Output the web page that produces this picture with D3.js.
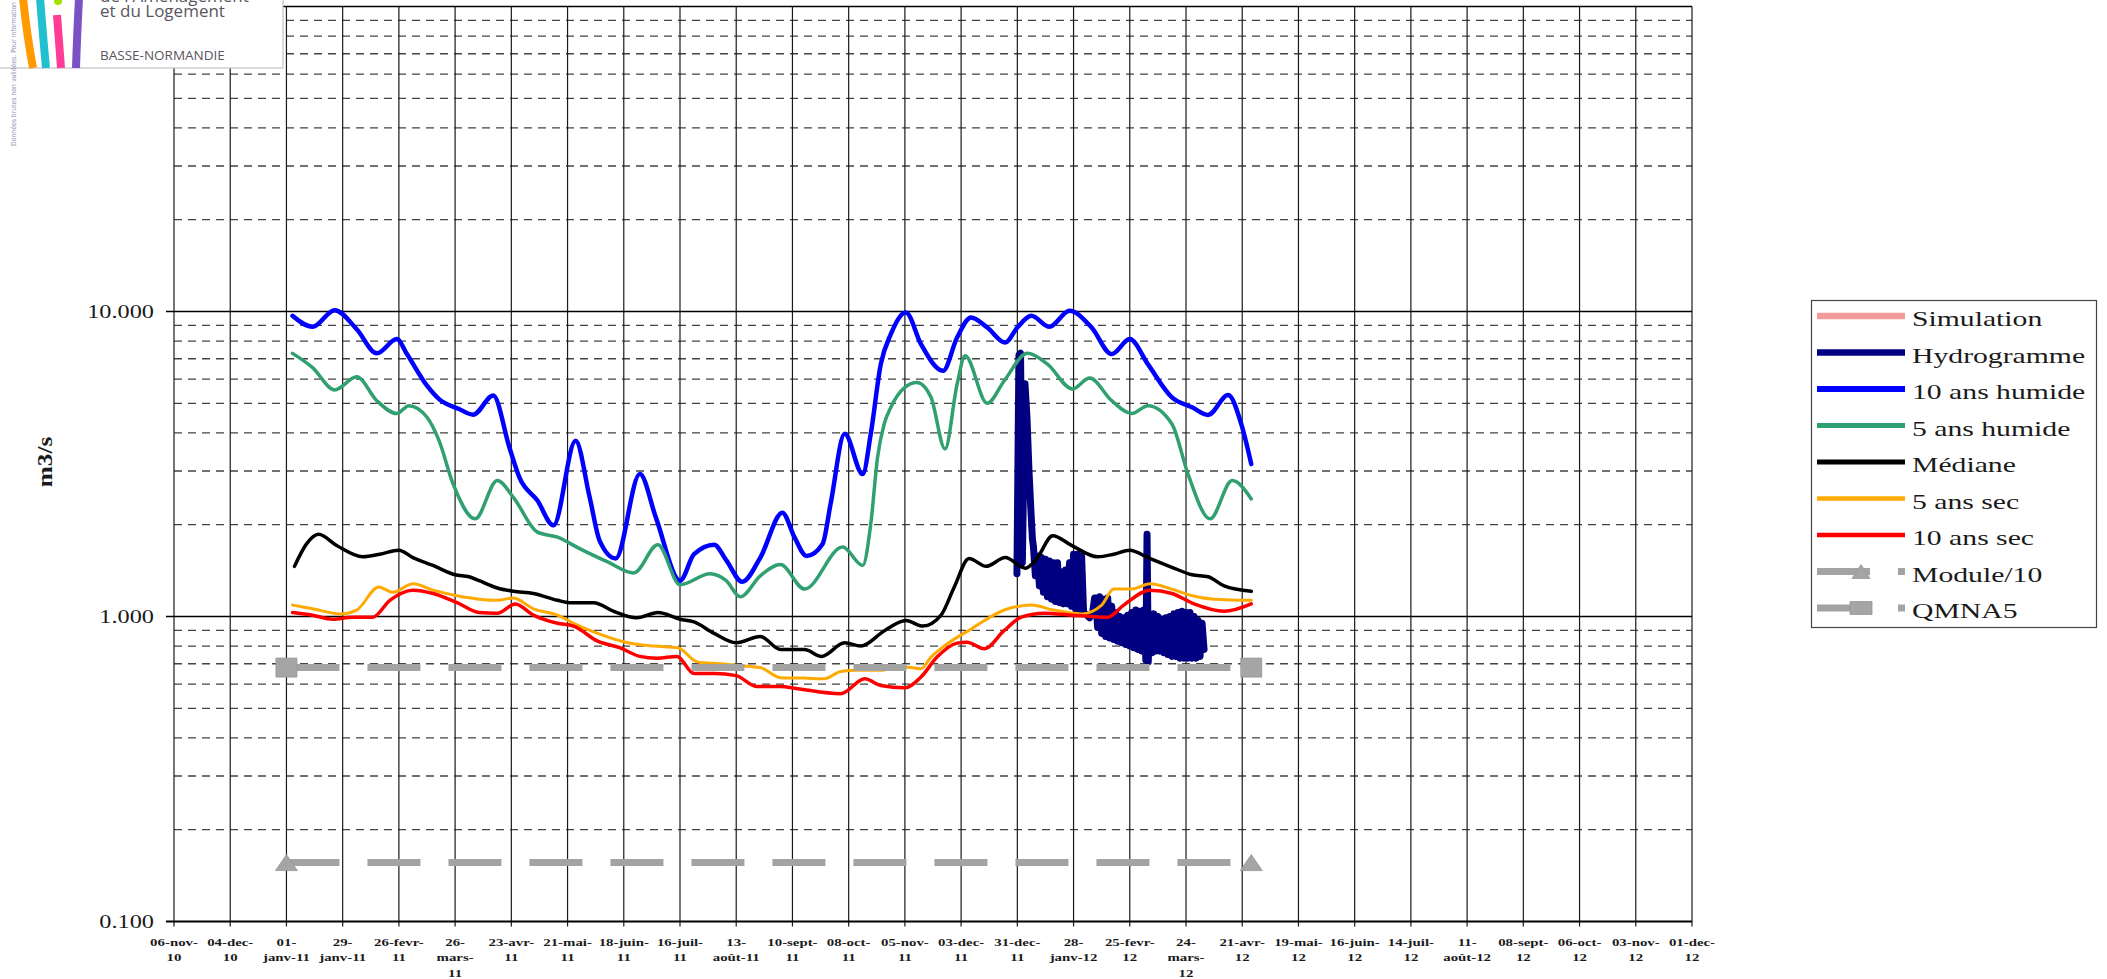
<!DOCTYPE html>
<html>
<head>
<meta charset="utf-8">
<script src="https://cdn.jsdelivr.net/npm/d3@7"></script>
<style>
  body { margin: 0; background: #fff; }
  #chart { width: 2107px; height: 979px; }
  .grid-v { stroke: #1a1a1a; stroke-width: 1.2; }
  .grid-major { stroke: #000; stroke-width: 1.6; }
  .grid-minor { stroke: #444; stroke-width: 1.3; stroke-dasharray: 8,6; }
  .serif { font-family: "Liberation Serif", "Times New Roman", serif; fill: #1a1a1a; }
  .logo-text { font-family: "Open Sans", "DejaVu Sans", sans-serif; fill: #5a5560; }
</style>
</head>
<body>
<div id="chart"></div>
<script>
// x axis: one label every 28 days, from 06-nov-10 to 01-dec-12 ("|" = line break)
var tickLabels = ["06-nov-|10", "04-dec-|10", "01-|janv-11", "29-|janv-11", "26-fevr-|11", "26-|mars-|11",
    "23-avr-|11", "21-mai-|11", "18-juin-|11", "16-juil-|11", "13-|août-11", "10-sept-|11", "08-oct-|11",
    "05-nov-|11", "03-dec-|11", "31-dec-|11", "28-|janv-12", "25-fevr-|12", "24-|mars-|12", "21-avr-|12",
    "19-mai-|12", "16-juin-|12", "14-juil-|12", "11-|août-12", "08-sept-|12", "06-oct-|12", "03-nov-|12", "01-dec-|12"];

// y axis (log)
var yMajorValues = [0.1, 1, 10, 100];
var yMajorLabels = ["0.100", "1.000", "10.000", "100.000"];
var yMinorValues = [0.2, 0.3, 0.4, 0.5, 0.6, 0.7, 0.8, 0.9, 2, 3, 4, 5, 6, 7, 8, 9, 20, 30, 40, 50, 60, 70, 80, 90];

var legendLabels = ["Simulation", "Hydrogramme", "10 ans humide", "5 ans humide", "Médiane",
    "5 ans sec", "10 ans sec", "Module/10", "QMNA5"];

// series as [days since 01-janv-11, m3/s]
var simulation = [];

var hydrogramme = [[363.8, 1.38], [364.8, 7.2], [365.6, 7.3], [366.5, 1.5], [367.8, 5.8], [368.8, 4.5],
    [369.8, 3.0], [370.8, 2.2], [371.5, 1.8], [372, 1.7], [373, 1.36], [374, 1.58], [375, 1.26], [376, 1.56],
    [377, 1.2], [378, 1.54], [379, 1.16], [380, 1.52], [381, 1.14], [382, 1.5], [383, 1.12], [384, 1.5],
    [385, 1.11], [386, 1.4], [387, 1.1], [388, 1.42], [389, 1.1], [390, 1.5], [391, 1.08], [392, 1.6],
    [393, 1.06], [394, 1.6], [395, 1.05], [396, 1.58], [397, 1.03], [398, 1.02], [400, 0.99], [401.5, 1.03],
    [402.5, 1.15], [403, 1.15], [404, 0.92], [405, 1.16], [406, 0.88], [407, 1.14], [408, 0.86], [409, 1.15],
    [410, 0.85], [411, 1.08], [412, 0.84], [413, 1.03], [414, 0.83], [415, 1.0], [416, 0.82], [417, 0.99],
    [418, 0.81], [419, 1.01], [420, 0.8], [421, 1.03], [422, 0.79], [423, 1.05], [424, 0.78], [425, 1.04],
    [426, 0.77], [427, 1.05], [428, 0.72], [428.6, 1.86], [429.2, 0.71], [430, 1.0], [431, 0.76], [432, 1.02],
    [433, 0.77], [434, 1.0], [435, 0.77], [436, 0.98], [437, 0.76], [438, 0.99], [439, 0.75], [440, 1.0],
    [441, 0.74], [442, 1.02], [443, 0.74], [444, 1.03], [445, 0.73], [446, 1.04], [447, 0.73], [448, 1.03],
    [449, 0.73], [450, 1.03], [451, 0.73], [452, 1.0], [453, 0.73], [454, 0.97], [455, 0.74], [456, 0.95], [457, 0.78]];

var humide10 = [[3, 9.68], [13, 8.91], [24, 10.1], [35, 8.75], [45, 7.29], [55, 8.12], [60, 7.25], [70, 5.71],
    [76, 5.16], [86, 4.79], [93, 4.59], [103, 5.3], [111, 3.59], [116, 2.86], [125, 2.4], [133, 1.99], [144, 3.77],
    [151, 2.46], [156, 1.77], [164, 1.55], [176, 2.93], [184, 2.11], [196, 1.31], [203, 1.6], [213, 1.72],
    [219, 1.53], [227, 1.3], [236, 1.56], [247, 2.19], [253, 1.82], [259, 1.58], [267, 1.73], [271, 2.34],
    [278, 3.97], [287, 2.93], [291, 3.97], [296, 6.72], [301, 8.43], [308.5, 9.92], [316, 7.82], [327, 6.39],
    [334, 8.22], [341, 9.56], [349, 8.86], [358, 7.91], [364, 8.86], [371, 9.68], [380, 8.91], [390, 10.05],
    [401, 8.86], [411, 7.25], [420, 8.12], [429, 6.72], [441, 5.23], [451, 4.85], [459, 4.58], [469, 5.32],
    [475.5, 4.28], [480.5, 3.16]];

var humide5 = [[3, 7.29], [13, 6.55], [24, 5.53], [35, 6.11], [45, 5.1], [55, 4.63], [61, 4.91], [70, 4.5],
    [76, 3.77], [83, 2.72], [94, 2.09], [105, 2.79], [113, 2.46], [125, 1.89], [135, 1.82], [146, 1.67],
    [160, 1.51], [173, 1.39], [185, 1.72], [196, 1.27], [211, 1.38], [219, 1.31], [226, 1.16], [236, 1.36],
    [246, 1.48], [258, 1.23], [277, 1.69], [287, 1.47], [291, 2.01], [294.4, 3.33], [297.7, 4.28], [301, 4.85],
    [308, 5.64], [314, 5.85], [321, 5.23], [328, 3.54], [334, 5.78], [338, 7.16], [349, 5.0], [357.5, 5.93],
    [369, 7.29], [379, 6.72], [391.5, 5.57], [400, 6.05], [411, 5.1], [421, 4.63], [429, 4.91], [441, 4.28],
    [449, 2.93], [460, 2.09], [471, 2.79], [480.5, 2.43]];

var mediane = [[4, 1.46], [10, 1.73], [16, 1.86], [25, 1.71], [38, 1.57], [46.5, 1.6], [56, 1.65], [63, 1.56],
    [73, 1.47], [84, 1.37], [91, 1.35], [96, 1.31], [105, 1.24], [113, 1.21], [123, 1.19], [135, 1.13],
    [141, 1.11], [153, 1.11], [163, 1.04], [174.5, 0.99], [185, 1.03], [196, 0.98], [203, 0.96], [213, 0.88],
    [224, 0.82], [236, 0.86], [246, 0.78], [258, 0.78], [266.5, 0.74], [278, 0.82], [286, 0.8], [298, 0.9],
    [308.5, 0.97], [317, 0.93], [326, 1.01], [332.6, 1.25], [340, 1.55], [348.4, 1.46], [358, 1.56], [368, 1.44],
    [374, 1.56], [381.6, 1.84], [391, 1.71], [404, 1.57], [412, 1.6], [420, 1.65], [429, 1.56], [441, 1.45],
    [451, 1.37], [459, 1.35], [467, 1.26], [480.5, 1.21]];

var sec5 = [[3, 1.09], [13, 1.06], [27, 1.02], [35, 1.05], [46, 1.25], [53, 1.2], [63, 1.28], [73, 1.22],
    [85, 1.17], [96, 1.14], [105, 1.13], [113, 1.15], [123, 1.06], [135, 1.01], [143, 0.95], [155, 0.88],
    [170, 0.82], [183, 0.8], [195, 0.79], [204.5, 0.71], [216, 0.7], [226, 0.69], [236, 0.68], [246, 0.63],
    [258, 0.628], [268, 0.625], [276, 0.66], [284, 0.666], [296, 0.666], [306, 0.686], [316, 0.674],
    [321, 0.736], [327.6, 0.8], [341, 0.91], [357.5, 1.05], [371, 1.09], [382, 1.05], [396, 1.02], [406, 1.09],
    [412, 1.23], [421, 1.23], [430, 1.28], [441, 1.23], [451, 1.17], [462, 1.14], [480.5, 1.13]];

var sec10 = [[3, 1.03], [13, 1.01], [23, 0.98], [33, 0.995], [43, 0.995], [51.5, 1.13], [63, 1.22], [73, 1.19],
    [85, 1.11], [96, 1.03], [105, 1.025], [114, 1.1], [123, 1.01], [135, 0.95], [143, 0.93], [155, 0.83],
    [166, 0.79], [176, 0.74], [184.5, 0.73], [194.5, 0.74], [203, 0.65], [213, 0.65], [224, 0.64], [234, 0.59],
    [246, 0.59], [254.5, 0.58], [276, 0.558], [288, 0.625], [296, 0.594], [308, 0.584], [316, 0.633],
    [324, 0.736], [334, 0.818], [339, 0.824], [347.5, 0.784], [357.5, 0.9], [366, 0.995], [377.5, 1.025],
    [391, 1.01], [401, 1.0], [409, 0.995], [417, 1.09], [430, 1.22], [441, 1.19], [452, 1.1], [467, 1.04],
    [480.5, 1.1]];

// horizontal references (two points each, marker at both ends)
var module10 = [[0, 0.156], [480.5, 0.156]];
var qmna5 = [[0, 0.68], [480.5, 0.68]];

function HydroChart(container) {
    this.chart = {};
    this.chart.margin = { top: 6.5, right: 415, bottom: 57.5, left: 174 };
    this.chart.container = container;
    this.chart.width = 0;
    this.chart.height = 0;
    this.chart.x = null;
    this.chart.y = null;
    this.chart.svg = null;
    this.chart.g = null;
    this.chart.stretch = 1.35;

    this.init();
}

HydroChart.prototype = {
    constructor: HydroChart,

    dayToDate: function(d) {
        return new Date(Date.UTC(2011, 0, 1) + d * 864e5);
    },

    // text squeezed like the original bitmap: wider than the font
    stretchText: function(parent, x, y, sx) {
        return parent.append("text")
            .attr("transform", "translate(" + x + "," + y + ") scale(" + sx + ",1)");
    },

    drawGrid: function() {
        var self = this,
            chart = self.chart,
            g = chart.g;

        var tickDates = tickLabels.map(function(l, i) {
            return d3.utcDay.offset(chart.x.domain()[0], i * 28);
        });

        g.selectAll(".grid-minor")
            .data(yMinorValues)
            .enter().append("line")
            .attr("class", "grid-minor")
            .attr("x1", 0).attr("x2", chart.width)
            .attr("y1", function(d) { return chart.y(d); })
            .attr("y2", function(d) { return chart.y(d); });

        g.selectAll(".grid-v")
            .data(tickDates)
            .enter().append("line")
            .attr("class", "grid-v")
            .attr("x1", function(d) { return chart.x(d); })
            .attr("x2", function(d) { return chart.x(d); })
            .attr("y1", 0).attr("y2", chart.height + 5);

        g.selectAll(".grid-major")
            .data(yMajorValues)
            .enter().append("line")
            .attr("class", "grid-major")
            .attr("x1", -8).attr("x2", chart.width)
            .attr("y1", function(d) { return chart.y(d); })
            .attr("y2", function(d) { return chart.y(d); })
            .style("stroke-width", function(d) { return d == 0.1 ? 2.2 : 1.6; });

        // y labels
        yMajorValues.forEach(function(v, i) {
            self.stretchText(g, -20, chart.y(v) + 6, chart.stretch)
                .attr("class", "serif")
                .attr("text-anchor", "end")
                .style("font-size", "18px")
                .text(yMajorLabels[i]);
        });

        // x labels, wrapped on several lines
        tickDates.forEach(function(d, i) {
            var t = self.stretchText(g, chart.x(d), chart.height + 24.5, chart.stretch)
                .attr("class", "serif")
                .attr("text-anchor", "middle")
                .style("font-size", "11px")
                .style("font-weight", "bold");
            t.selectAll("tspan")
                .data(tickLabels[i].split("|"))
                .enter().append("tspan")
                .attr("x", 0)
                .attr("y", function(s, j) { return j * 15.5; })
                .text(function(s) { return s; });
        });

        // axis title
        chart.svg.append("text")
            .attr("class", "serif")
            .attr("transform", "translate(52,462) rotate(-90) scale(1.4,1.2)")
            .attr("text-anchor", "middle")
            .style("font-size", "18px")
            .style("font-weight", "bold")
            .text("m3/s");
    },

    drawSeries: function() {
        var self = this,
            chart = self.chart,
            g = chart.g;

        var smooth = d3.line()
            .x(function(d) { return chart.x(self.dayToDate(d[0])); })
            .y(function(d) { return chart.y(d[1]); })
            .curve(d3.curveMonotoneX);

        var raw = d3.line()
            .x(function(d) { return chart.x(self.dayToDate(d[0])); })
            .y(function(d) { return chart.y(d[1]); });

        var series = [
            { data: simulation, line: smooth, color: "#f39b9b", width: 4 },
            { data: hydrogramme, line: raw, color: "#000080", width: 7 },
            { data: humide10, line: smooth, color: "#0000ff", width: 4.5 },
            { data: humide5, line: smooth, color: "#30a070", width: 3.5 },
            { data: mediane, line: smooth, color: "#000000", width: 3.5 },
            { data: sec5, line: smooth, color: "#ffaa00", width: 3 },
            { data: sec10, line: smooth, color: "#ff0000", width: 3.5 }
        ];

        series.forEach(function(s) {
            if (!s.data.length) return;
            g.append("path")
                .datum(s.data)
                .attr("d", s.line)
                .style("fill", "none")
                .style("stroke", s.color)
                .style("stroke-width", s.width)
                .style("stroke-linejoin", "round")
                .style("stroke-linecap", "round");
        });

        // Module/10 and QMNA5: dashed grey with end markers
        [module10, qmna5].forEach(function(ref, k) {
            g.append("path")
                .datum(ref)
                .attr("d", raw)
                .style("fill", "none")
                .style("stroke", "#a3a3a3")
                .style("stroke-width", 7)
                .style("stroke-dasharray", "53,28");

            g.selectAll(".marker" + k)
                .data(ref)
                .enter().append("path")
                .attr("class", "marker" + k)
                .attr("transform", function(d) {
                    return "translate(" + chart.x(self.dayToDate(d[0])) + "," + chart.y(d[1]) + ")";
                })
                .attr("d", k == 0 ? "M-11,8L0,-8L11,8Z" : "M-10.5,-9.5H10.5V9.5H-10.5Z")
                .style("fill", "#a5a5a5")
                .style("stroke", "#959595")
                .style("stroke-width", 0.8);
        });
    },

    drawLegend: function() {
        var self = this,
            chart = self.chart,
            svg = chart.svg,
            styles = [
                { color: "#f39b9b", width: 6.5 },
                { color: "#000080", width: 6.5 },
                { color: "#0000ff", width: 6 },
                { color: "#30a070", width: 5 },
                { color: "#000000", width: 5 },
                { color: "#ffaa00", width: 4.5 },
                { color: "#ff0000", width: 4.5 },
                { color: "#a3a3a3", width: 7, marker: "M-9,7L0,-7L9,7Z" },
                { color: "#a3a3a3", width: 7, marker: "M-11,-6.5H11V6.5H-11Z" }
            ];

        var legend = svg.append("g").attr("class", "legend");

        legend.append("rect")
            .attr("x", 1811.5).attr("y", 300.5)
            .attr("width", 285).attr("height", 327)
            .style("fill", "#fff")
            .style("stroke", "#444")
            .style("stroke-width", 1.2);

        var items = legend.selectAll(".legend-item")
            .data(legendLabels)
            .enter().append("g")
            .attr("class", "legend-item")
            .attr("transform", function(d, i) { return "translate(0," + (316 + i * 36.5) + ")"; });

        items.append("line")
            .attr("x1", 1817).attr("x2", 1905)
            .attr("y1", 0).attr("y2", 0)
            .style("stroke", function(d, i) { return styles[i].color; })
            .style("stroke-width", function(d, i) { return styles[i].width; })
            .style("stroke-dasharray", function(d, i) { return styles[i].marker ? "53,28" : null; });

        items.filter(function(d, i) { return styles[i].marker; })
            .append("path")
            .attr("transform", "translate(1861,0)")
            .attr("d", function(d) { return styles[legendLabels.indexOf(d)].marker; })
            .style("fill", "#a5a5a5")
            .style("stroke", "#959595")
            .style("stroke-width", 0.8);

        items.each(function(d) {
            self.stretchText(d3.select(this), 1912, 10, chart.stretch)
                .attr("class", "serif")
                .style("font-size", "22px")
                .text(d);
        });
    },

    drawLogo: function() {
        var svg = this.chart.svg;
        var logo = svg.append("g").attr("class", "logo");

        logo.append("rect")
            .attr("x", -1).attr("y", -1)
            .attr("width", 284).attr("height", 69)
            .style("fill", "#fff")
            .style("stroke", "#c4c2cc")
            .style("stroke-width", 1.2);

        var strokes = [
            { d: "M23,-2 Q27,36 33,68", c: "#ff9a00" },
            { d: "M40,-2 Q43,36 46,68", c: "#20c0d0" },
            { d: "M57,15 Q59,42 61,68", c: "#ff3d96" },
            { d: "M79,-2 Q77,36 76,68", c: "#7a52c4" }
        ];
        logo.selectAll(".stroke")
            .data(strokes)
            .enter().append("path")
            .attr("d", function(d) { return d.d; })
            .style("fill", "none")
            .style("stroke", function(d) { return d.c; })
            .style("stroke-width", 8);

        logo.append("circle")
            .attr("cx", 58).attr("cy", 1).attr("r", 4)
            .style("fill", "#a6e000");

        // small vertical note, squeezed to fit between the top edge and y=146
        logo.append("text")
            .attr("transform", "translate(16,146) rotate(-90)")
            .attr("textLength", 144)
            .attr("lengthAdjust", "spacingAndGlyphs")
            .style("font-family", "'DejaVu Sans', sans-serif")
            .style("font-size", "7px")
            .style("fill", "#9a90b4")
            .text("Données brutes non validées. Pour information");

        logo.append("text").attr("class", "logo-text")
            .attr("x", 100).attr("y", 1.5)
            .style("font-size", "17px")
            .text("de l'Aménagement");
        logo.append("text").attr("class", "logo-text")
            .attr("x", 100).attr("y", 17)
            .style("font-size", "17px")
            .text("et du Logement");
        logo.append("text").attr("class", "logo-text")
            .attr("x", 100).attr("y", 60)
            .style("font-size", "13.5px")
            .text("BASSE-NORMANDIE");
    },

    init: function() {
        var self = this,
            chart = self.chart;

        chart.width = 2107 - chart.margin.left - chart.margin.right;
        chart.height = 979 - chart.margin.top - chart.margin.bottom;

        chart.svg = d3.select(chart.container)
            .append("svg")
            .attr("width", 2107)
            .attr("height", 979);

        chart.g = chart.svg.append("g")
            .attr("transform", "translate(" + chart.margin.left + "," + chart.margin.top + ")");

        chart.x = d3.scaleUtc()
            .domain([new Date(Date.UTC(2010, 10, 6)), new Date(Date.UTC(2012, 11, 1))])
            .range([0, chart.width]);

        chart.y = d3.scaleLog()
            .domain([0.1, 100])
            .range([chart.height, 0]);

        self.drawGrid();
        self.drawSeries();
        self.drawLegend();
        self.drawLogo();
    }
};

new HydroChart("#chart");
</script>
</body>
</html>
